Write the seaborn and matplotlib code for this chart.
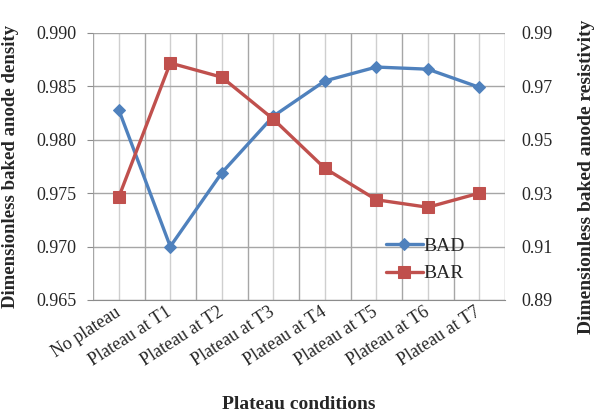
"""Plateau conditions vs baked anode density / resistivity"""

import matplotlib
matplotlib.use("Agg")
import matplotlib.pyplot as plt
import pandas as pd
import seaborn as sns
from matplotlib.ticker import FixedLocator

conditions = ["No plateau", "Plateau at T1", "Plateau at T2", "Plateau at T3",
              "Plateau at T4", "Plateau at T5", "Plateau at T6", "Plateau at T7"]
bad = [0.9828, 0.9700, 0.9769, 0.9822, 0.9855, 0.9868, 0.9866, 0.9849]
bar = [0.9285, 0.9787, 0.9734, 0.9577, 0.9393, 0.9275, 0.9247, 0.9300]
left_ticks = [0.965, 0.970, 0.975, 0.980, 0.985, 0.990]
right_ticks = [0.89, 0.91, 0.93, 0.95, 0.97, 0.99]

BLUE = "#4F81BD"
RED = "#C0504D"

sns.set_style("white")
plt.rcParams['font.family'] = ["Liberation Serif", "DejaVu Serif"]

df = pd.DataFrame({'pos': range(len(conditions)), 'condition': conditions, 'BAD': bad, 'BAR': bar})

fig = plt.figure(figsize=(6.16, 4.16), dpi=100)
ax = fig.add_axes([0.151, 0.279, 0.669, 0.642])
ax2 = ax.twinx()

sns.lineplot(data=df, x='pos', y='BAD', ax=ax, color=BLUE, marker='D', markersize=6,
             markeredgecolor=BLUE, linewidth=2.4, label='BAD', legend=False)
sns.lineplot(data=df, x='pos', y='BAR', ax=ax2, color=RED, marker='s', markersize=9,
             markeredgecolor=RED, linewidth=2.4, label='BAR', legend=False)

n = len(conditions)
ax.set_xlim(-0.5, n - 0.5)
ax.set_ylim(left_ticks[0], left_ticks[-1])
ax.yaxis.set_major_locator(FixedLocator(left_ticks))
ax.set_yticklabels([f"{v:.3f}" for v in left_ticks])
ax2.set_ylim(right_ticks[0], right_ticks[-1])
ax2.yaxis.set_major_locator(FixedLocator(right_ticks))
ax2.set_yticklabels([f"{v:.2f}" for v in right_ticks])

# category boundaries as major ticks, centres as minor ticks (Excel style)
ax.xaxis.set_major_locator(FixedLocator([i - 0.5 for i in range(n + 1)]))
ax.xaxis.set_minor_locator(FixedLocator(list(range(n))))
ax.set_xticklabels([])
ax.set_xticklabels(conditions, minor=True, rotation=33, ha='right', va='center',
                   rotation_mode='anchor')
ax.tick_params(axis='x', which='major', length=5, color='#8c8c8c', direction='out')
ax.tick_params(axis='x', which='minor', length=0, labelsize=13, pad=8)
ax.tick_params(axis='y', length=4, color='#8c8c8c', labelsize=13, pad=8)
ax2.tick_params(axis='y', length=0, labelsize=13, pad=12)

ax.grid(True, which='major', axis='both', color='#a6a6a6', linewidth=1.0)
ax.grid(True, which='minor', axis='x', color='#cfcfcf', linewidth=1.0)
ax.set_axisbelow(True)

for a in (ax, ax2):
    for side in ('top', 'right', 'left'):
        a.spines[side].set_visible(False)
    a.spines['bottom'].set_color('#8c8c8c')
ax2.spines['bottom'].set_visible(False)

ax.set_xlabel("Plateau conditions", fontsize=14, fontweight='bold')
ax.xaxis.set_label_coords(0.5, -0.36)
ax.set_ylabel("Dimensionless baked anode density", fontsize=13.5, fontweight='bold')
ax.yaxis.set_label_coords(-0.18, 0.5)
ax2.set_ylabel("Dimensionless baked anode resistivity", fontsize=14, fontweight='bold',
               rotation=90)
ax2.yaxis.set_label_coords(1.177, 0.46)

handles = ax.get_lines()[:1] + ax2.get_lines()[:1]
ax2.legend(handles, ['BAD', 'BAR'], loc='lower right', bbox_to_anchor=(0.945, 0.0),
           frameon=False, fontsize=14, handlelength=1.9, handletextpad=0.05, labelspacing=0.5)

fig.savefig("out.png", dpi=100)
